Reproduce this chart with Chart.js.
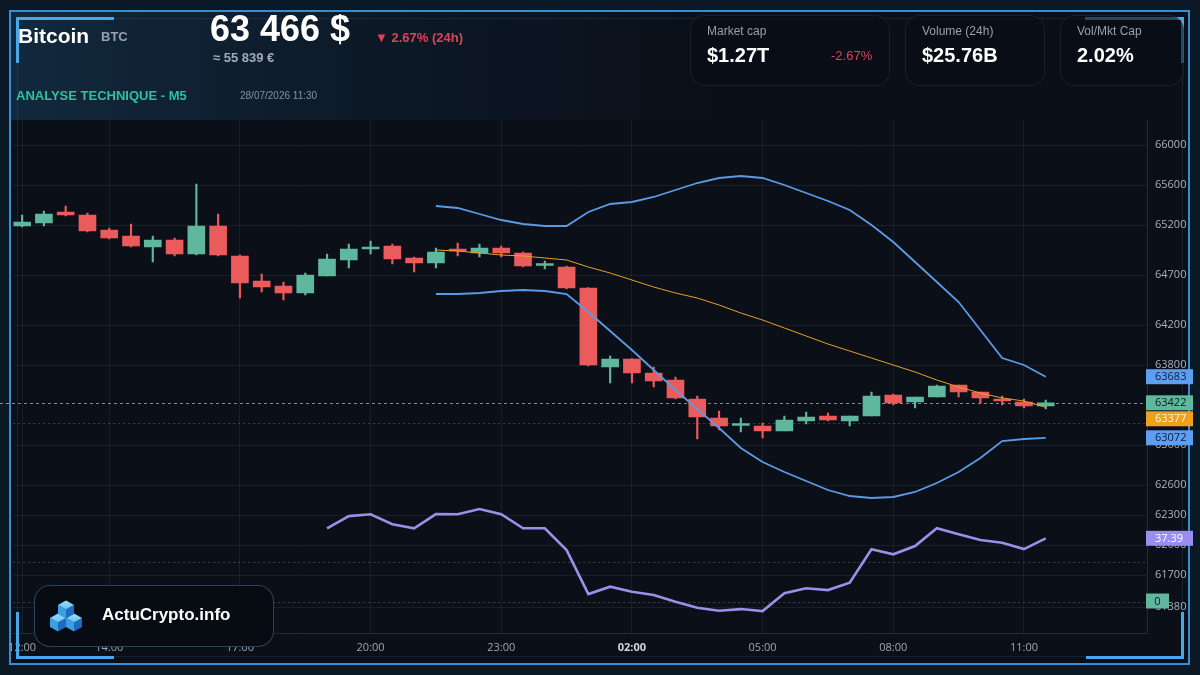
<!DOCTYPE html>
<html>
<head>
<meta charset="utf-8">
<script src="https://cdn.jsdelivr.net/npm/chart.js@4.4.1/dist/chart.umd.min.js"></script>
<style>
body{margin:0;width:1200px;height:675px;background:#0b1826;overflow:hidden;position:relative;font-family:"Liberation Sans",Arial,sans-serif}
#panel{position:absolute;left:9px;top:10px;width:1181px;height:655px;background:#0a0f18;border:2px solid #3a8ed0;box-sizing:border-box}
#head{position:absolute;left:11px;top:12px;width:1177px;height:108px;background:linear-gradient(90deg,rgba(24,62,92,.55) 0%,rgba(16,40,62,.4) 30%,rgba(10,15,24,0) 62%)}
#inner{position:absolute;left:17px;top:18px;width:1166px;height:639px;border:1px solid rgba(70,110,150,.22);box-sizing:border-box}
canvas{position:absolute;left:0;top:0}
.t{position:absolute;white-space:nowrap;line-height:1}
.card{position:absolute;top:15px;height:71px;border:1px solid rgba(120,140,170,.16);border-radius:15px;background:rgba(8,12,20,.6);box-sizing:border-box}
.cl{position:absolute;left:16px;top:8px;font-size:12px;color:#98a1ad}
.cv{position:absolute;left:16px;top:28px;font-size:20px;font-weight:bold;color:#fff}
.corner{position:absolute;background:#48a6ea}
#logo{position:absolute;left:34px;top:585px;width:240px;height:62px;border:1.5px solid rgba(80,140,180,.45);border-radius:16px;background:#070b12;box-sizing:border-box}
</style>
</head>
<body>
<div id="panel"></div>
<div id="head"></div>
<div id="inner"></div>
<canvas id="c" width="1200" height="675"></canvas>

<div class="corner" style="left:16px;top:17px;width:98px;height:3px"></div>
<div class="corner" style="left:16px;top:17px;width:3px;height:46px"></div>
<div class="corner" style="left:1085px;top:17px;width:99px;height:3px"></div>
<div class="corner" style="left:1181px;top:17px;width:3px;height:46px"></div>
<div class="corner" style="left:16px;top:656px;width:98px;height:3px"></div>
<div class="corner" style="left:16px;top:612px;width:3px;height:47px"></div>
<div class="corner" style="left:1086px;top:656px;width:98px;height:3px"></div>
<div class="corner" style="left:1181px;top:612px;width:3px;height:47px"></div>

<div class="t" style="left:18px;top:25px;font-size:21px;font-weight:bold;color:#fff">Bitcoin</div>
<div class="t" style="left:101px;top:30px;font-size:13px;font-weight:bold;color:#95a0b0">BTC</div>
<div class="t" style="left:210px;top:11px;font-size:36px;font-weight:bold;color:#fff">63 466 $</div>
<div class="t" style="left:375px;top:31px;font-size:13px;font-weight:bold;color:#e0405a">▼ 2.67% (24h)</div>
<div class="t" style="left:213px;top:51px;font-size:13px;font-weight:bold;color:#a3abb7">≈ 55 839 €</div>
<div class="t" style="left:16px;top:89px;font-size:13px;font-weight:bold;color:#2cc29f">ANALYSE TECHNIQUE - M5</div>
<div class="t" style="left:240px;top:91px;font-size:10px;color:#8690a0">28/07/2026 11:30</div>

<div class="card" style="left:690px;width:200px">
  <div class="cl">Market cap</div>
  <div class="cv">$1.27T</div>
  <div class="t" style="left:140px;top:33px;font-size:13px;color:#d9455e">-2.67%</div>
</div>
<div class="card" style="left:905px;width:140px">
  <div class="cl">Volume (24h)</div>
  <div class="cv">$25.76B</div>
</div>
<div class="card" style="left:1060px;width:124px">
  <div class="cl">Vol/Mkt Cap</div>
  <div class="cv">2.02%</div>
</div>

<div id="logo">
  <svg style="position:absolute;left:14px;top:12px" width="40" height="36" viewBox="52 597 40 36">
    <defs>
      <linearGradient id="gt" x1="0" y1="0" x2="0" y2="1"><stop offset="0" stop-color="#9be3ff"/><stop offset="1" stop-color="#5cc0f5"/></linearGradient>
    </defs>
    <g id="cubes"></g>
  </svg>
  <div class="t" style="left:67px;top:20px;font-size:17px;font-weight:bold;color:#fff">ActuCrypto.info</div>
</div>

<script>
// candles, 30 min from 12:00 to 11:30
var openP  = [65190,65220,65330,65300,65150,65090,64980,65050,64910,65190,64890,64640,64590,64520,64690,64850,64960,64990,64870,64820,64955,64920,64970,64920,64795,64780,64570,63780,63860,63720,63650,63460,63270,63195,63190,63140,63240,63290,63240,63290,63500,63430,63480,63600,63530,63460,63430,63390];
var highP  = [65300,65340,65390,65320,65170,65210,65090,65070,65610,65310,64900,64710,64630,64720,64910,65010,65040,65010,64880,64970,65020,65010,64990,64930,64840,64790,64575,63890,63865,63780,63680,63490,63340,63270,63220,63290,63330,63320,63290,63530,63510,63480,63600,63600,63530,63490,63460,63450];
var lowP   = [65180,65190,65290,65130,65060,64980,64830,64890,64900,64890,64470,64530,64450,64500,64690,64770,64910,64810,64730,64770,64890,64880,64880,64780,64760,64560,63790,63620,63620,63580,63460,63060,63150,63130,63070,63140,63210,63240,63190,63290,63400,63370,63480,63480,63420,63400,63370,63360];
var closeP = [65230,65310,65300,65140,65070,64990,65050,64910,65190,64900,64620,64580,64520,64700,64860,64960,64975,64860,64820,64930,64940,64970,64920,64790,64810,64570,63800,63860,63720,63640,63470,63280,63190,63210,63140,63250,63280,63250,63290,63490,63420,63480,63590,63530,63470,63440,63390,63422];

// bollinger bands (20) start at candle 19
var bandStart = 19;
var bandUpper = [65390,65370,65310,65250,65210,65190,65190,65330,65410,65430,65480,65550,65620,65670,65690,65670,65600,65520,65440,65350,65200,65030,64830,64630,64430,64150,63870,63800,63683];
var bandMid   = [64950,64940,64920,64900,64890,64870,64850,64780,64720,64650,64580,64520,64470,64400,64320,64250,64170,64090,64010,63940,63870,63800,63730,63650,63580,63520,63470,63440,63377];
var bandLower = [64510,64510,64520,64540,64550,64540,64510,64330,64140,63950,63750,63550,63360,63170,62970,62830,62730,62640,62550,62490,62470,62480,62530,62620,62730,62870,63040,63060,63072];

// rsi starts at candle 14
var rsiStart = 14;
var rsiVals = [42.4,48.5,49.4,44.4,42.4,49.5,49.4,52.0,49.4,42.4,42.4,31.5,9.5,13.2,10.7,9.0,5.7,2.7,1.2,2.0,1.0,9.9,12.4,11.5,15.2,31.9,29.4,33.5,42.4,39.4,36.5,35.2,32.0,37.39];

var xTickPos = [0,4,10,16,22,28,34,40,46];
var xTickLabels = ['12:00','14:00','17:00','20:00','23:00','02:00','05:00','08:00','11:00'];
var yTickVals = [66000,65600,65200,64700,64200,63800,63000,62600,62300,62000,61700,61380];

var priceLevels = [63422,63220,61830,61430];
var badges = [
	{v: 63683, axis: 'y', bg: '#5e9ef0', fg: '#0d1d45', text: '63683'},
	{v: 63422, axis: 'y', bg: '#5fb79d', fg: '#0a1a18', text: '63422'},
	{v: 63377, axis: 'y', bg: '#f0a020', fg: '#fff6e0', text: '63377'},
	{v: 63072, axis: 'y', bg: '#5e9ef0', fg: '#0d1d45', text: '63072'},
	{v: 37.39, axis: 'yRsi', bg: '#9a8df0', fg: '#ffffff', text: '37.39'},
	{v: 61440, axis: 'y', bg: '#5fb79d', fg: '#0a1a18', text: '0', w: 23}
];

var GREEN = '#5fb79d', RED = '#ec5b5b';

// logo cubes
(function () {
	var g = document.getElementById('cubes');
	function cube(cx, cy) {
		var w = 8, t = 4.6, v = 9;
		var s = '';
		s += '<path d="M' + (cx - w) + ',' + cy + ' L' + cx + ',' + (cy + t) + ' L' + cx + ',' + (cy + t + v) + ' L' + (cx - w) + ',' + (cy + v) + 'Z" fill="#3b9fe6"/>';
		s += '<path d="M' + (cx + w) + ',' + cy + ' L' + cx + ',' + (cy + t) + ' L' + cx + ',' + (cy + t + v) + ' L' + (cx + w) + ',' + (cy + v) + 'Z" fill="#1d6cc0"/>';
		s += '<path d="M' + cx + ',' + (cy - t) + ' L' + (cx + w) + ',' + cy + ' L' + cx + ',' + (cy + t) + ' L' + (cx - w) + ',' + cy + 'Z" fill="url(#gt)"/>';
		return s;
	}
	g.innerHTML = cube(61, 617) + cube(77, 617) + cube(69, 604);
})();

var idx = openP.map(function (o, i) { return i; });
var candleColors = idx.map(function (i) { return closeP[i] >= openP[i] ? GREEN : RED; });

function seriesFrom(start, vals) {
	return vals.map(function (v, k) { return {x: start + k, y: v}; });
}

var overlay = {
	id: 'overlay',
	beforeDatasetsDraw: function (chart) {
		var ctx = chart.ctx, a = chart.chartArea, y = chart.scales.y;
		ctx.save();
		ctx.lineWidth = 1;
		priceLevels.forEach(function (p, k) {
			var py = Math.round(y.getPixelForValue(p)) + 0.5;
			ctx.strokeStyle = k === 0 ? 'rgba(215,222,232,0.6)' : 'rgba(150,160,178,0.35)';
			ctx.setLineDash(k === 0 ? [3, 3] : [2, 3]);
			ctx.beginPath();
			ctx.moveTo(k === 0 ? 0 : a.left, py);
			ctx.lineTo(a.right, py);
			ctx.stroke();
		});
		ctx.restore();
	},
	afterDraw: function (chart) {
		var ctx = chart.ctx, a = chart.chartArea;
		ctx.save();
		ctx.font = '11px "Open Sans"';
		ctx.textBaseline = 'middle';
		var lastBottom = -100;
		var placed = badges.map(function (b) {
			return {b: b, py: chart.scales[b.axis].getPixelForValue(b.v)};
		});
		placed.forEach(function (p) {
			var h = 15;
			var top = p.py - h / 2;
			if (top < lastBottom + 1) top = lastBottom + 1;
			lastBottom = top + h;
			var w = p.b.w || 47;
			ctx.fillStyle = p.b.bg;
			ctx.fillRect(a.right - 1, top, w, h);
			ctx.fillStyle = p.b.fg;
			ctx.textAlign = p.b.w ? 'center' : 'left';
			ctx.fillText(p.b.text, p.b.w ? a.right - 1 + w / 2 : a.right + 8, top + h / 2 + 0.5);
		});
		ctx.restore();
	}
};

new Chart(document.getElementById('c'), {
	type: 'bar',
	data: {
		datasets: [
			{
				label: 'wicks',
				data: idx.map(function (i) { return {x: i, y: [lowP[i], highP[i]]}; }),
				backgroundColor: candleColors,
				barThickness: 1.5,
				grouped: false,
				order: 3
			},
			{
				label: 'bodies',
				data: idx.map(function (i) { return {x: i, y: [openP[i], closeP[i]]}; }),
				backgroundColor: candleColors,
				barThickness: 17,
				minBarLength: 2,
				grouped: false,
				order: 2
			},
			{
				type: 'line',
				label: 'upper',
				data: seriesFrom(bandStart, bandUpper),
				borderColor: '#5b9be6',
				borderWidth: 1.8,
				pointRadius: 0,
				order: 1
			},
			{
				type: 'line',
				label: 'mid',
				data: seriesFrom(bandStart, bandMid),
				borderColor: '#e6a12a',
				borderWidth: 1,
				pointRadius: 0,
				order: 0
			},
			{
				type: 'line',
				label: 'lower',
				data: seriesFrom(bandStart, bandLower),
				borderColor: '#5b9be6',
				borderWidth: 1.8,
				pointRadius: 0,
				order: 1
			},
			{
				type: 'line',
				label: 'rsi',
				yAxisID: 'yRsi',
				data: seriesFrom(rsiStart, rsiVals),
				borderColor: '#9b8fe8',
				borderWidth: 2.6,
				pointRadius: 0,
				order: 0
			}
		]
	},
	options: {
		responsive: false,
		animation: false,
		layout: {padding: {left: 12, top: 120, right: 0, bottom: 0}},
		plugins: {legend: {display: false}, tooltip: {enabled: false}},
		scales: {
			x: {
				type: 'linear',
				offset: false,
				min: -0.41,
				max: 51.65,
				afterBuildTicks: function (scale) {
					scale.ticks = xTickPos.map(function (v) { return {value: v}; });
				},
				afterFit: function (scale) { scale.height = 42; },
				grid: {color: 'rgba(255,255,255,0.065)', drawTicks: false, offset: false},
				border: {color: '#242b37'},
				ticks: {
					padding: 8,
					maxRotation: 0,
					autoSkip: false,
					color: function (c) { return c.tick && c.tick.value === 28 ? '#d0d6de' : '#9ea7b3'; },
					font: function (c) {
						return {family: 'Open Sans', size: 11, weight: c.tick && c.tick.value === 28 ? 'bold' : 'normal'};
					},
					callback: function (v) {
						var k = xTickPos.indexOf(v);
						return k >= 0 ? xTickLabels[k] : '';
					}
				}
			},
			y: {
				position: 'right',
				min: 61120,
				max: 66250,
				afterBuildTicks: function (scale) {
					scale.ticks = yTickVals.map(function (v) { return {value: v}; });
				},
				afterFit: function (scale) { scale.width = 53; },
				grid: {color: 'rgba(255,255,255,0.065)', drawTicks: false},
				border: {color: '#242b37'},
				ticks: {
					padding: 8,
					color: '#aab2bd',
					font: {family: 'Open Sans', size: 11},
					callback: function (v) { return String(v); }
				}
			},
			yRsi: {
				axis: 'y',
				display: false,
				min: -9.96,
				max: 246.54
			}
		}
	},
	plugins: [overlay]
});
</script>
</body>
</html>
